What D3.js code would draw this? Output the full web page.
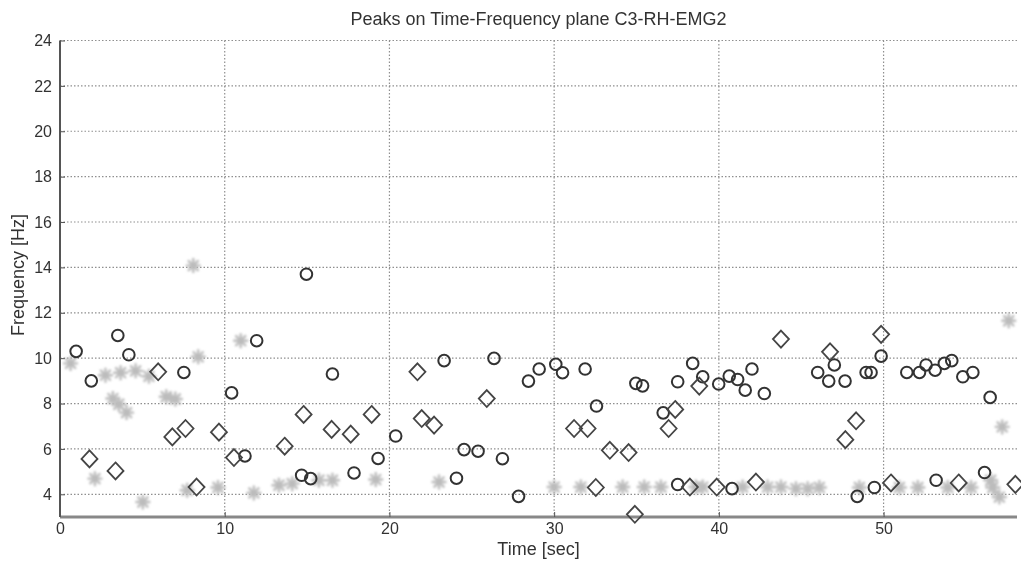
<!DOCTYPE html>
<html><head><meta charset="utf-8">
<script src="https://cdn.jsdelivr.net/npm/d3@7"></script>
<style>body{margin:0;background:#fff;} text{font-family:"Liberation Sans",Arial,sans-serif;}</style>
</head><body><svg id="c" width="1021" height="561"></svg>
<script>
const title = "Peaks on Time-Frequency plane C3-RH-EMG2";
const xLabel = "Time [sec]";
const yLabel = "Frequency [Hz]";
const xTicks = [0,10,20,30,40,50];
const yTicks = [4,6,8,10,12,14,16,18,20,22,24];

const circleT = [0.98,1.9,3.51,4.18,7.52,14.96,11.94,16.54,10.42,11.23,14.67,15.22,17.85,19.31,23.32,26.35,28.44,29.09,20.38,24.53,25.38,26.86,24.07,27.84,30.1,30.51,31.88,32.57,34.96,35.37,38.41,39.02,37.5,36.62,37.5,39.99,40.63,41.14,42.01,41.6,42.76,46.0,46.67,47.01,47.66,40.8,48.4,48.94,49.24,49.85,51.41,52.18,52.58,53.13,53.69,54.14,54.81,55.42,56.47,49.44,53.19,56.13];
const circleF = [10.3,9.0,11.0,10.15,9.37,13.7,10.77,9.3,8.47,5.69,4.84,4.69,4.94,5.58,9.89,9.99,8.99,9.52,6.57,5.97,5.9,5.57,4.71,3.91,9.73,9.36,9.52,7.89,8.89,8.78,9.77,9.18,8.96,7.59,4.43,8.86,9.21,9.06,9.52,8.59,8.44,9.37,8.99,9.7,8.99,4.25,3.91,9.37,9.37,10.09,9.37,9.37,9.7,9.47,9.77,9.89,9.18,9.37,8.27,4.3,4.62,4.96];

const diamondT = [5.96,1.79,3.37,6.82,7.62,9.65,8.29,10.56,13.64,14.79,16.49,17.65,18.92,21.7,21.96,22.71,25.91,31.21,32.03,33.38,34.52,32.53,34.9,36.95,37.35,38.24,38.81,43.77,46.75,39.87,42.25,47.68,48.33,49.85,50.45,54.56,58.0];
const diamondF = [9.4,5.56,5.03,6.53,6.9,6.74,4.32,5.62,6.12,7.52,6.86,6.65,7.52,9.4,7.34,7.05,8.22,6.9,6.9,5.94,5.84,4.3,3.12,6.9,7.74,4.32,8.77,10.84,10.28,4.32,4.54,6.41,7.24,11.05,4.5,4.5,4.44];

const starT = [8.09,0.64,2.76,3.68,4.59,5.4,8.39,3.21,3.57,4.04,6.45,7.0,2.12,5.03,7.72,9.59,10.97,11.77,13.29,14.1,15.72,16.54,19.17,23.01,30.0,31.62,34.16,35.47,36.48,39.02,38.6,41.44,42.96,43.77,44.68,45.39,46.1,48.53,57.6,57.2,57.03,50.96,52.08,53.9,55.31,56.63,56.5];
const starF = [14.08,9.77,9.25,9.36,9.44,9.2,10.06,8.22,7.97,7.6,8.3,8.2,4.69,3.66,4.18,4.3,10.77,4.06,4.4,4.47,4.62,4.62,4.65,4.54,4.32,4.32,4.32,4.32,4.32,4.32,4.32,4.32,4.32,4.32,4.25,4.25,4.3,4.3,11.65,6.97,3.88,4.3,4.3,4.3,4.3,4.3,4.62];

const L = 60, R = 1017, T = 40.5, B = 517;
const svg = d3.select("#c");
const x = d3.scaleLinear().domain([0,58.1]).range([L,R]);
const y = d3.scaleLinear().domain([3,24]).range([B,T]);

const defs = svg.append("defs");
defs.append("filter").attr("id","blur").append("feGaussianBlur").attr("stdDeviation",0.9);
defs.append("filter").attr("id","blur2").append("feGaussianBlur").attr("stdDeviation",0.4);
defs.append("filter").attr("id","blurT").append("feGaussianBlur").attr("stdDeviation",0.45);

// grid
const grid = svg.append("g").attr("stroke","#8f8f8f").attr("stroke-width",1.2).attr("stroke-dasharray","1.5,2");
grid.selectAll(".hg").data(yTicks).join("line").attr("x1",L).attr("x2",R).attr("y1",d=>y(d)).attr("y2",d=>y(d));
grid.selectAll(".vg").data(xTicks.filter(d=>d>0)).join("line").attr("y1",T).attr("y2",B).attr("x1",d=>x(d)).attr("x2",d=>x(d));

// axes
const yAxis = d3.axisLeft(y).tickValues(yTicks).tickSize(-5).tickPadding(8);
const gy = svg.append("g").attr("transform",`translate(${L},0)`).call(yAxis);
gy.select(".domain").attr("stroke","#555").attr("stroke-width",2).attr("d",`M0,${T}V${B}`);
gy.selectAll(".tick line").attr("stroke","#555");
gy.selectAll("text").attr("font-size",16).attr("fill","#333").attr("font-family","Liberation Sans, Arial, sans-serif").attr("filter","url(#blurT)");

const xAxis = d3.axisBottom(x).tickValues(xTicks).tickSize(-5).tickPadding(6);
const gx = svg.append("g").attr("transform",`translate(0,${B})`).call(xAxis);
gx.select(".domain").attr("stroke","#888").attr("stroke-width",3).attr("d",`M${L},0H${R}`);
gx.selectAll(".tick line").attr("stroke","#555");
gx.selectAll("text").attr("font-size",16).attr("fill","#333").attr("font-family","Liberation Sans, Arial, sans-serif").attr("filter","url(#blurT)");

// stars
const sp = d3.range(4).map(i=>{const a=i*Math.PI/4, r=7.5; return `M${-r*Math.cos(a)},${-r*Math.sin(a)}L${r*Math.cos(a)},${r*Math.sin(a)}`;}).join("");
svg.append("g").attr("filter","url(#blur)").selectAll("path").data(starT.map((t,i)=>[t,starF[i]])).join("path")
  .attr("d",sp).attr("transform",d=>`translate(${x(d[0])},${y(d[1])})`)
  .attr("stroke","#bcbcbc").attr("stroke-width",2.4).attr("fill","none");

// circles
svg.append("g").attr("filter","url(#blur2)").selectAll("circle").data(circleT.map((t,i)=>[t,circleF[i]])).join("circle")
  .attr("cx",d=>x(d[0])).attr("cy",d=>y(d[1])).attr("r",5.8)
  .attr("fill","none").attr("stroke","#333").attr("stroke-width",2);

// diamonds
const dp = "M0,-8.5L8,0L0,8.5L-8,0Z";
svg.append("g").attr("filter","url(#blur2)").selectAll("path").data(diamondT.map((t,i)=>[t,diamondF[i]])).join("path")
  .attr("d",dp).attr("transform",d=>`translate(${x(d[0])},${y(d[1])})`)
  .attr("fill","none").attr("stroke","#444").attr("stroke-width",1.8);

// labels
const lab = svg.append("g").attr("filter","url(#blurT)");
lab.append("text").attr("x",(L+R)/2).attr("y",25).attr("text-anchor","middle").attr("font-size",18).attr("fill","#333").text(title);
lab.append("text").attr("x",(L+R)/2).attr("y",555).attr("text-anchor","middle").attr("font-size",18).attr("fill","#333").text(xLabel);
lab.append("text").attr("transform",`translate(24,275) rotate(-90)`).attr("text-anchor","middle").attr("font-size",18).attr("fill","#333").text(yLabel);
</script></body></html>
